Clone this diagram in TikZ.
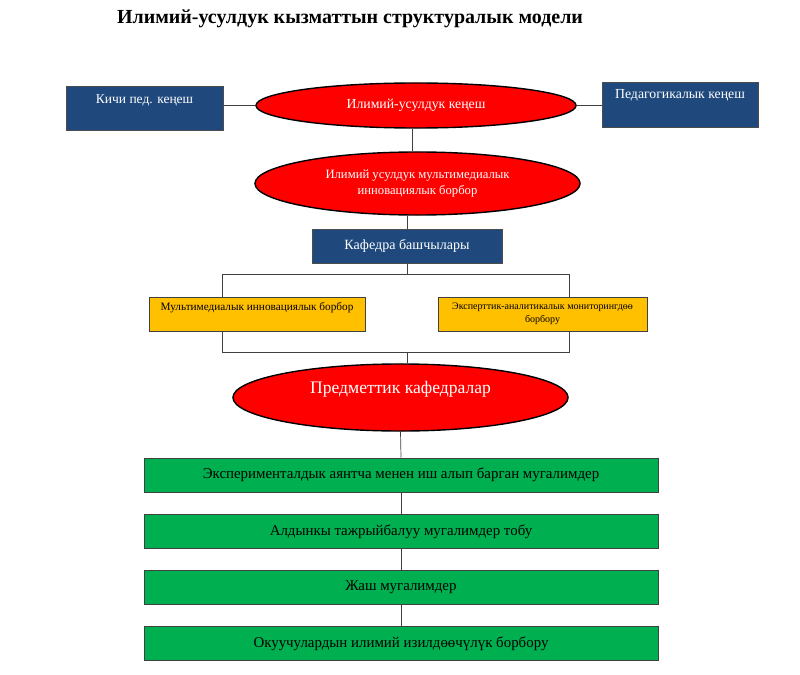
\documentclass[tikz,border=0pt]{standalone}
\usepackage{fontspec}
\setmainfont{Liberation Serif}
\usepackage{tikz}
\usetikzlibrary{shapes,backgrounds}

\definecolor{navy}{HTML}{1F497D}
\definecolor{wordyellow}{HTML}{FFC000}
\definecolor{wordgreen}{HTML}{00B050}

\begin{document}
\begin{tikzpicture}[x=0.025cm,y=-0.025cm,
  line/.style={draw=black!75,line width=0.5pt},
  oval/.style={ellipse,draw=black,line width=1pt,fill=red,text=white,inner sep=0pt,align=center},
  bluebox/.style={rectangle,draw=black!70,line width=0.5pt,fill=navy,text=white,inner sep=0pt,align=center},
  yellowbox/.style={rectangle,draw=black!75,line width=0.5pt,fill=wordyellow,inner sep=0pt,align=center,minimum height=0.85cm},
  greenbox/.style={rectangle,draw=black!75,line width=0.5pt,fill=wordgreen,inner sep=0pt,minimum width=12.85cm,minimum height=0.85cm,font=\fontsize{10.6}{12}\selectfont}]
\useasboundingbox (0,0) rectangle (800,675);

% draw title
\node (title) at (350,19) {\fontsize{14.2}{16}\selectfont\bfseries Илимий-усулдук кызматтын структуралык модели};

% draw top row
\node[oval,minimum width=8cm,minimum height=1.125cm,font=\fontsize{9.8}{11}\selectfont] (iuk) at (416,105.5) {Илимий-усулдук кеңеш};
\node[bluebox,minimum width=3.925cm,text height=0.45cm,text depth=0.65cm,font=\fontsize{9.6}{11}\selectfont] (kichi) at (144.5,108) {Кичи пед. кеңеш};
\node[bluebox,minimum width=3.9cm,text height=0.425cm,text depth=0.7cm,font=\fontsize{9.8}{11}\selectfont] (ped) at (680,104.5) {Педагогикалык кеңеш};

% draw second level
\node[oval,minimum width=8.125cm,minimum height=1.575cm,font=\fontsize{9}{11.5}\selectfont] (mib) at (417.5,183.5) {Илимий усулдук мультимедиалык\\инновациялык борбор};
\node[bluebox,minimum width=4.75cm,minimum height=0.85cm,font=\fontsize{10}{12}\selectfont] (kaf) at (407,246) {Кафедра башчылары};

% draw yellow boxes
\node[yellowbox,minimum width=5.4cm,text height=0.33cm,text depth=0.52cm,minimum height=0pt,font=\fontsize{8}{9}\selectfont] (mmb) at (257,314) {Мультимедиалык инновациялык борбор};
\node[yellowbox,minimum width=5.225cm,font=\fontsize{7.1}{9}\selectfont] (eam) at (542.5,314) {Эксперттик-аналитикалык мониторингдөө\\борбору};

% draw lower part
\node[oval,minimum width=8.375cm,minimum height=1.675cm,text height=0.3cm,text depth=0.5cm,font=\fontsize{12.5}{14}\selectfont] (pk) at (400.5,397.5) {Предметтик кафедралар};
\node[greenbox] (g1) at (401,475) {Эксперименталдык аянтча менен иш алып барган мугалимдер};
\node[greenbox] (g2) at (401,531.5) {Алдынкы тажрыйбалуу мугалимдер тобу};
\node[greenbox] (g3) at (401,587.5) {Жаш мугалимдер};
\node[greenbox] (g4) at (401,643.5) {Окуучулардын илимий изилдөөчүлүк борбору};

% draw bracket points
\coordinate (ul) at (222,274);
\coordinate (ur) at (569,274);
\coordinate (ll) at (222,352);
\coordinate (lr) at (569,352);

% draw connectors
\begin{scope}[on background layer]
\draw[line] (kichi.east |- 0,105) -- (iuk.west |- 0,105);
\draw[line] (iuk.east |- 0,105) -- (ped.west |- 0,105);
\draw[line] (iuk.south -| 412,0) -- (mib.north -| 412,0);
\draw[line] (mib.south -| kaf.south) -- (kaf.north);
\draw[line] (kaf.south) -- (kaf.south |- ul);
\draw[line] (mmb.north -| ul) -- (ul) -- (ur) -- (eam.north -| ur);
\draw[line] (mmb.south -| ll) -- (ll) -- (lr) -- (eam.south -| lr);
\draw[line] (kaf.south |- ll) -- (kaf.south |- pk.north);
\draw[line] (pk.south) -- (g1.north);
\draw[line] (g1.south) -- (g2.north);
\draw[line] (g2.south) -- (g3.north);
\draw[line] (g3.south) -- (g4.north);
\end{scope}

\end{tikzpicture}
\end{document}
